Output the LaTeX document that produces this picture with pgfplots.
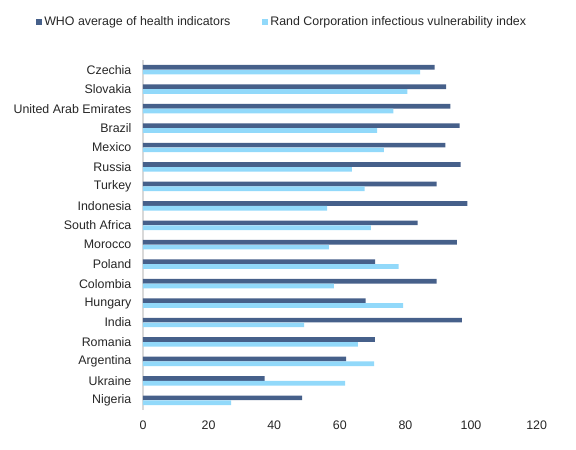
\documentclass[border=0pt]{standalone}
\usepackage{pgfplots}
\pgfplotsset{compat=1.18}
\usepackage{fontspec}
\setmainfont{Liberation Sans}

\definecolor{whoblue}{HTML}{46608A}
\definecolor{randblue}{HTML}{92D9FA}
\definecolor{axisgray}{HTML}{D9D9D9}
\definecolor{txt}{HTML}{262626}

\begin{document}
\fontsize{9.3}{11}\selectfont
\begin{tikzpicture}
    \path[use as bounding box] (0,0) rectangle (432pt,337.5pt);
    \begin{axis}[
        at={(107.25pt,30pt)}, anchor=south west,
        scale only axis, width=295.2pt, height=262.5pt,
        xbar, bar width=3.5pt,
        xmin=0, xmax=120, xtick={0,20,...,120},
        ymin=-0.5, ymax=17.5, ytick={0,...,17},
        yticklabels={Nigeria,Ukraine,Argentina,Romania,India,Hungary,Colombia,Poland,Morocco,South Africa,Indonesia,Turkey,Russia,Mexico,Brazil,United Arab Emirates,Slovakia,Czechia},
        axis x line=none, axis y line*=left,
        hide x axis=false,
        x axis line style={draw=none},
        y axis line style={axisgray, line width=0.8pt, -},
        major tick length=0pt,
        tick style={draw=none},
        xticklabel style={yshift=-4.8pt, text=txt},
        yticklabel style={xshift=-5.4pt, text=txt},
        /pgf/number format/assume math mode=true,
        legend columns=2,
        legend style={draw=none, fill=none, at={(-0.282,1.1086)}, anchor=west,
            text=txt, font=\fontsize{9.3}{11}\selectfont,
            /tikz/every even column/.append style={column sep=22pt}},
        legend image code/.code={\fill[#1] (0pt,-2.1pt) rectangle (4pt,2.1pt);},
    ]
    \addplot[fill=whoblue, draw=none, bar shift=1.8pt] coordinates {
        (48.5,0) (37.1,1) (61.9,2) (70.7,3) (97.2,4) (67.9,5) (89.5,6) (70.8,7) (95.7,8)
        (83.7,9) (98.9,10) (89.5,11) (96.8,12) (92.2,13) (96.5,14) (93.7,15) (92.4,16) (88.9,17)
    };
    \addlegendentry{WHO average of health indicators}
    \addplot[fill=randblue, draw=none, bar shift=-1.8pt] coordinates {
        (26.9,0) (61.6,1) (70.5,2) (65.5,3) (49.1,4) (79.3,5) (58.2,6) (77.9,7) (56.7,8)
        (69.5,9) (56.1,10) (67.6,11) (63.7,12) (73.4,13) (71.4,14) (76.3,15) (80.6,16) (84.5,17)
    };
    \addlegendentry{Rand Corporation infectious vulnerability index}
    \end{axis}
\end{tikzpicture}
\end{document}
